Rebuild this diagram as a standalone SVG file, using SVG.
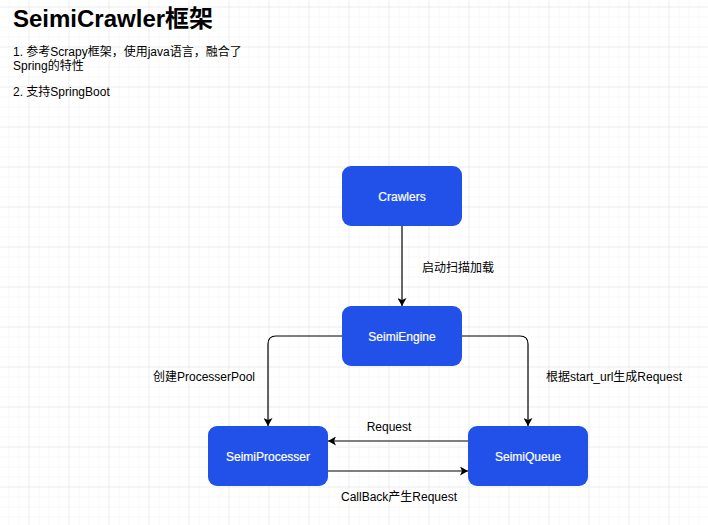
<svg xmlns="http://www.w3.org/2000/svg" width="708" height="525" viewBox="0 0 708 525">
<defs>
<pattern id="minor" patternUnits="userSpaceOnUse" x="8" y="6" width="10" height="10">
<path d="M0,0 H10 M0,0 V10" fill="none" stroke="#f3f3f3" stroke-width="1"/>
</pattern>
<pattern id="major" patternUnits="userSpaceOnUse" x="28" y="6" width="40" height="40">
<path d="M0,0 H40 M0,0 V40" fill="none" stroke="#e4e4e4" stroke-width="1"/>
</pattern>
<marker id="arrow" markerUnits="userSpaceOnUse" markerWidth="8" markerHeight="9" viewBox="0 0 8 9" refX="8" refY="4.5" orient="auto">
<path d="M0,0 L8,4.5 L0,9 L2,4.5 z" fill="#000"/>
</marker>
<style>
.node rect{fill:#2251E9;}
.node text{fill:#fff;font-family:"Liberation Sans","Noto Sans CJK SC",sans-serif;font-size:12px;text-anchor:middle;stroke:#fff;stroke-width:0.2;}
.lbl{fill:#000;font-family:"Liberation Sans","Noto Sans CJK SC",sans-serif;font-size:12px;}
.edge{fill:none;stroke:#000;stroke-width:1.2;marker-end:url(#arrow);}
</style>
</defs>
<rect width="708" height="525" fill="#fff"/>
<rect width="708" height="525" fill="url(#minor)" transform="translate(0.5,0.5)"/>
<rect width="708" height="525" fill="url(#major)" transform="translate(0.5,0.5)"/>

<g id="header">
<text x="13" y="27" font-family="Liberation Sans,Noto Sans CJK SC,sans-serif" font-size="24" font-weight="bold" fill="#000">SeimiCrawler框架</text>
<text class="lbl" x="13" y="56">1. 参考Scrapy框架，使用java语言，融合了</text>
<text class="lbl" x="13" y="70">Spring的特性</text>
<text class="lbl" x="13" y="96">2. 支持SpringBoot</text>
</g>

<g id="connectors">
<path class="edge" d="M402,226 V306"/>
<path class="edge" d="M342,336 H276 Q268,336 268,344 V426"/>
<path class="edge" d="M462,336 H520 Q528,336 528,344 V426"/>
<path class="edge" d="M468,441 H328"/>
<path class="edge" d="M328,471 H468"/>
<text class="lbl" x="422" y="272">启动扫描加载</text>
<text class="lbl" x="153" y="381">创建ProcesserPool</text>
<text class="lbl" x="546" y="381">根据start_url生成Request</text>
<text class="lbl" x="389" y="431" text-anchor="middle">Request</text>
<text class="lbl" x="399" y="501" text-anchor="middle">CallBack产生Request</text>
</g>

<g id="Crawlers" class="node">
<rect x="342" y="166" width="120" height="60" rx="9"/>
<text x="402" y="201">Crawlers</text>
</g>
<g id="SeimiEngine" class="node">
<rect x="342" y="306" width="120" height="60" rx="9"/>
<text x="402" y="341">SeimiEngine</text>
</g>
<g id="SeimiProcesser" class="node">
<rect x="208" y="426" width="120" height="60" rx="9"/>
<text x="268" y="461">SeimiProcesser</text>
</g>
<g id="SeimiQueue" class="node">
<rect x="468" y="426" width="120" height="60" rx="9"/>
<text x="528" y="461">SeimiQueue</text>
</g>
</svg>
